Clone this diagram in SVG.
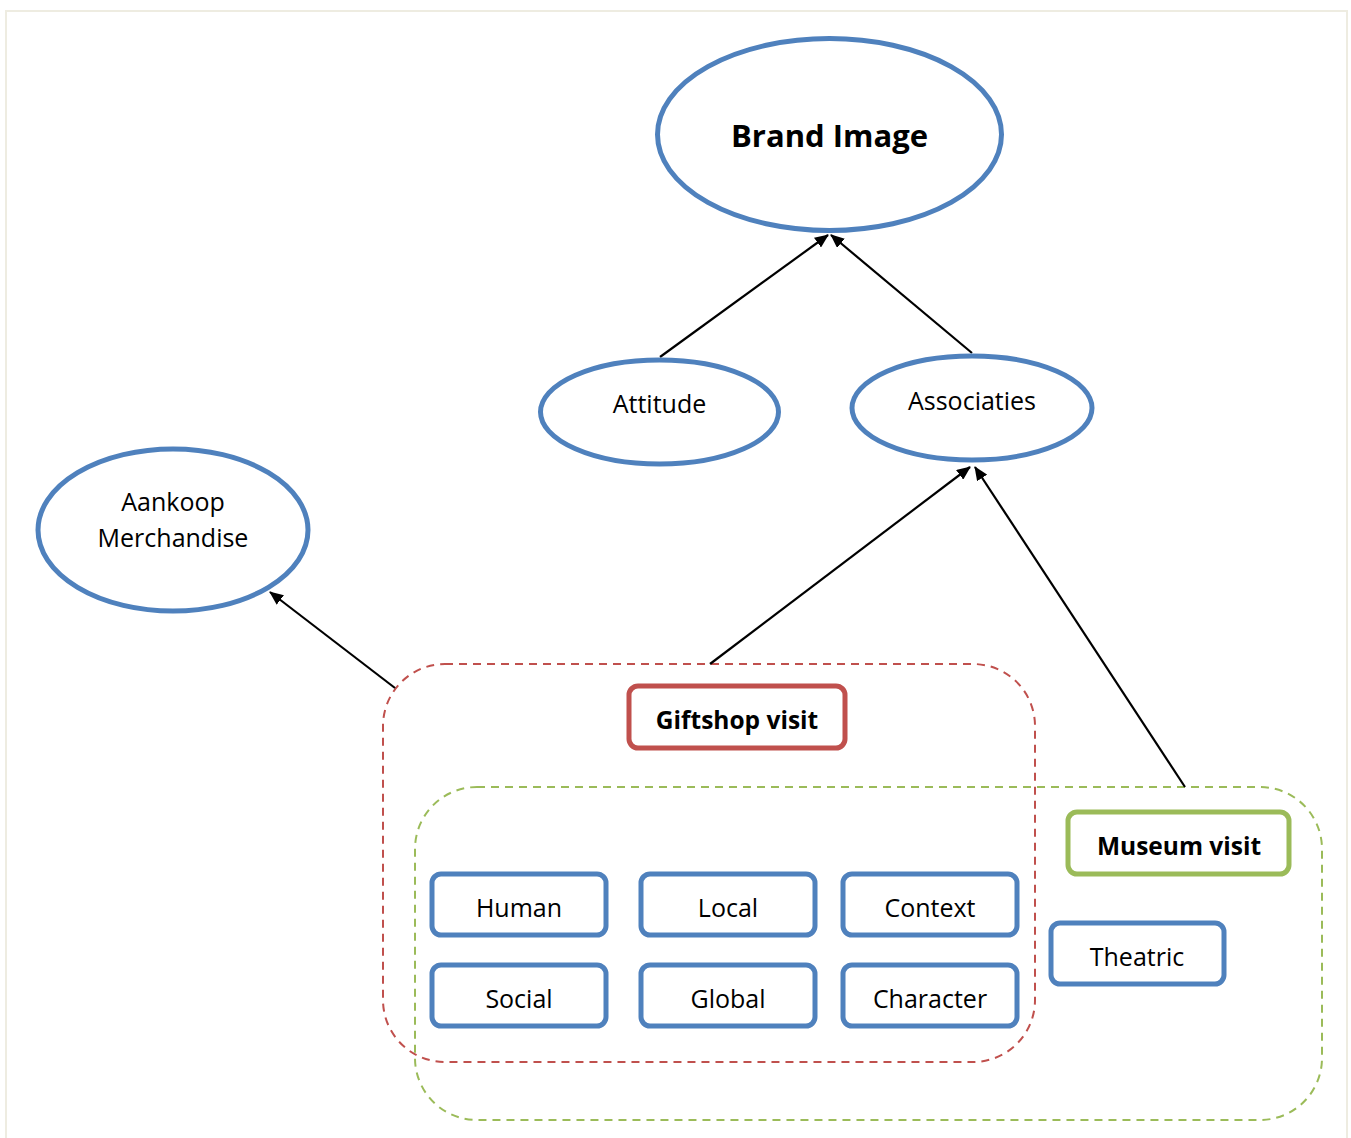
<svg xmlns="http://www.w3.org/2000/svg" width="1351" height="1138" viewBox="0 0 1351 1138">
<style>
text{font-family:"Open Sans","Noto Sans",sans-serif;fill:#000;text-anchor:middle;dominant-baseline:central}
.t{font-size:25px}
.b{font-weight:bold;font-size:24.5px}
.ell{fill:#fff;stroke:#4f81bd;stroke-width:5}
.box{fill:#fff;stroke:#4f81bd;stroke-width:5}
.conn line{stroke:#000;stroke-width:2.2}
</style>
<defs>
<marker id="ah" viewBox="0 0 14 12" refX="13" refY="6" markerWidth="14" markerHeight="12" orient="auto" markerUnits="userSpaceOnUse">
<path d="M0,0 L14,6 L0,12 z" fill="#000"/>
</marker>
</defs>
<rect x="6" y="11" width="1341" height="1140" fill="#fff" stroke="#eeece1" stroke-width="2"/>
<g id="giftshop-group">
<rect x="383" y="664" width="652" height="398" rx="62" fill="none" stroke="#c0504d" stroke-width="2" stroke-dasharray="8,6"/>
</g>
<g id="museum-group">
<rect x="415" y="787" width="907" height="333" rx="62" fill="none" stroke="#9bbb59" stroke-width="2" stroke-dasharray="8,6"/>
</g>
<g class="conn" id="connectors">
<line x1="660" y1="357" x2="828" y2="235" marker-end="url(#ah)"/>
<line x1="972" y1="353" x2="831" y2="235" marker-end="url(#ah)"/>
<line x1="710" y1="664" x2="970" y2="467" marker-end="url(#ah)"/>
<line x1="1185" y1="787" x2="975" y2="467" marker-end="url(#ah)"/>
<line x1="395" y1="688" x2="270" y2="592" marker-end="url(#ah)"/>
</g>
<g id="brand-image">
<ellipse class="ell" cx="829.5" cy="134.5" rx="172" ry="96"/>
<text class="b" x="829.5" y="135" style="font-size:31px">Brand Image</text>
</g>
<g id="attitude">
<ellipse class="ell" cx="659.5" cy="412" rx="119" ry="52"/>
<text class="t" x="659.5" y="403">Attitude</text>
</g>
<g id="associaties">
<ellipse class="ell" cx="972" cy="408" rx="120" ry="52"/>
<text class="t" x="972" y="400">Associaties</text>
</g>
<g id="aankoop">
<ellipse class="ell" cx="173" cy="530" rx="135" ry="81"/>
<text class="t" x="173" y="501">Aankoop</text>
<text class="t" x="173" y="537">Merchandise</text>
</g>
<g id="giftshop-visit">
<rect x="629" y="686" width="216" height="62" rx="9" fill="#fff" stroke="#c0504d" stroke-width="5"/>
<text class="b" x="737" y="719">Giftshop visit</text>
</g>
<g id="museum-visit">
<rect x="1068" y="812" width="221" height="62" rx="9" fill="#fff" stroke="#9bbb59" stroke-width="5"/>
<text class="b" x="1179" y="845">Museum visit</text>
</g>
<g id="human"><rect class="box" x="432" y="874" width="174" height="61" rx="9"/><text class="t" x="519" y="907">Human</text></g>
<g id="local"><rect class="box" x="641" y="874" width="174" height="61" rx="9"/><text class="t" x="728" y="907">Local</text></g>
<g id="context"><rect class="box" x="843" y="874" width="174" height="61" rx="9"/><text class="t" x="930" y="907">Context</text></g>
<g id="social"><rect class="box" x="432" y="965" width="174" height="61" rx="9"/><text class="t" x="519" y="998">Social</text></g>
<g id="global"><rect class="box" x="641" y="965" width="174" height="61" rx="9"/><text class="t" x="728" y="998">Global</text></g>
<g id="character"><rect class="box" x="843" y="965" width="174" height="61" rx="9"/><text class="t" x="930" y="998">Character</text></g>
<g id="theatric"><rect class="box" x="1051" y="923" width="173" height="61" rx="9"/><text class="t" x="1137" y="956">Theatric</text></g>
</svg>
